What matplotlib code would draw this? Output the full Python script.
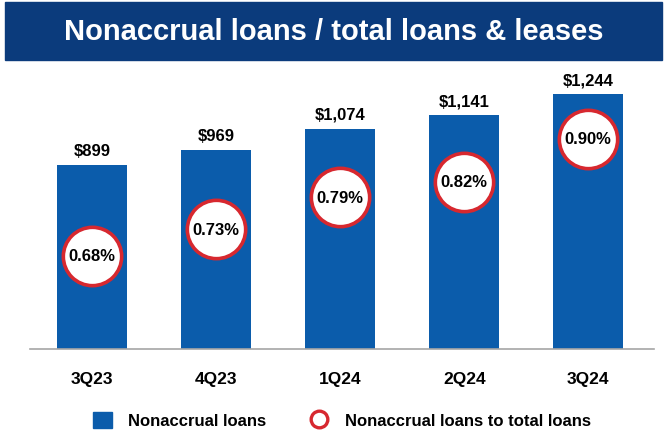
import matplotlib.pyplot as plt
from matplotlib.patches import Rectangle, Patch
from matplotlib.lines import Line2D

plt.rcParams['font.family'] = ['Liberation Sans', 'DejaVu Sans']

quarters = ['3Q23', '4Q23', '1Q24', '2Q24', '3Q24']
nonaccrual = [899, 969, 1074, 1141, 1244]          # $ millions
ratio_pct = [0.68, 0.73, 0.79, 0.82, 0.90]         # % of total loans

bar_blue = '#0b5cab'
navy = '#0b3b7c'
ring_red = '#d7282f'

fig = plt.figure(figsize=(6.67, 4.35), dpi=100)

# header band
fig.patches.append(Rectangle((5 / 667, 1 - 61 / 435), 657 / 667, 58 / 435,
                             transform=fig.transFigure, color=navy, zorder=0))
fig.text(0.5, 1 - 32 / 435, 'Nonaccrual loans / total loans & leases',
         color='white', fontsize=21, fontweight='bold', ha='center', va='center')

ax = fig.add_axes([30 / 667, 85 / 435, 624 / 667, 288 / 435])
x = list(range(len(quarters)))
bars = ax.bar(x, nonaccrual, width=0.565, color=bar_blue, zorder=2)
ax.set_xlim(-0.5, 4.53)
ax.set_ylim(0, 1405)

for b, v in zip(bars, nonaccrual):
    ax.annotate(f'${v:,}', (b.get_x() + b.get_width() / 2, v),
                xytext=(0, 5), textcoords='offset points',
                ha='center', va='bottom', fontsize=12, fontweight='bold')

ax.set_xticks(x)
ax.set_xticklabels(quarters, fontsize=12.5, fontweight='bold')
ax.tick_params(axis='x', length=0, pad=16)
ax.set_yticks([])
for side in ['top', 'right', 'left']:
    ax.spines[side].set_visible(False)
ax.spines['bottom'].set_color('#a6a6a6')
ax.spines['bottom'].set_linewidth(1.2)

# ratio circles on a second scale
ax2 = ax.twinx()
ax2.set_ylim(0.5052, 1.0465)
ax2.plot(x, ratio_pct, linestyle='none', marker='o', markersize=42,
         markerfacecolor='white', markeredgecolor=ring_red, markeredgewidth=2.6,
         zorder=3)
for xi, r in zip(x, ratio_pct):
    ax2.text(xi, r, f'{r:.2f}%', ha='center', va='center',
             fontsize=12, fontweight='bold', zorder=4)
ax2.set_yticks([])
for side in ['top', 'right', 'left', 'bottom']:
    ax2.spines[side].set_visible(False)

handles = [
    Patch(facecolor=bar_blue, edgecolor=bar_blue, label='Nonaccrual loans'),
    Line2D([], [], linestyle='none', marker='o', markersize=12,
           markerfacecolor='white', markeredgecolor=ring_red, markeredgewidth=2.4,
           label='Nonaccrual loans to total loans'),
]
leg = fig.legend(handles=handles, loc='center', ncol=2, frameon=False,
                 bbox_to_anchor=(342 / 667, 1 - 421 / 435),
                 prop={'size': 12, 'weight': 'bold'},
                 handlelength=1.1, handleheight=1.1, columnspacing=2.6,
                 handletextpad=1.0)

fig.savefig('out.png', dpi=100)
